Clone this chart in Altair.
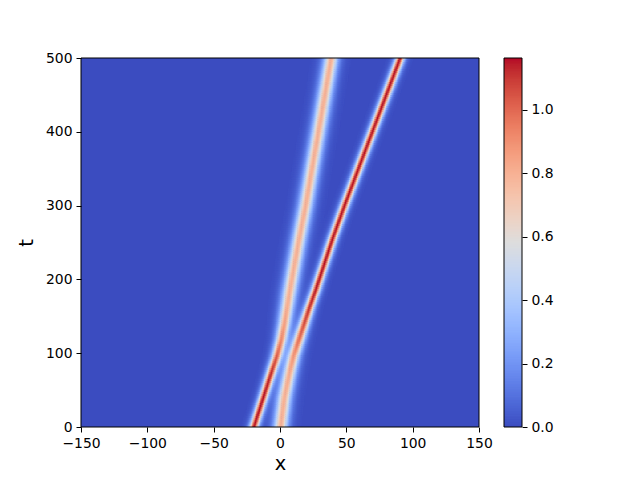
import numpy as np
import pandas as pd
import altair as alt

# ---- values ----
t_knots = [0, 40, 73, 96, 118, 141, 163, 184, 209, 254, 300, 350, 400, 450, 500]
left_center = [-19.7, -12.6, -6.7, -2.4, 0.9, 3.4, 5.4, 7.3, 9.8, 14.3, 19.3, 24.1, 29.0, 33.8, 38.6]
right_center = [0.4, 3.3, 7.1, 10.2, 14.2, 18.4, 22.4, 26.6, 31.2, 39.4, 48.6, 59.1, 69.6, 80.1, 90.6]
left_peak = [1.16, 1.16, 1.12, 1.02, 0.92, 0.85, 0.81, 0.80, 0.80, 0.80, 0.80, 0.80, 0.80, 0.80, 0.80]
right_peak = [0.80, 0.80, 0.82, 0.88, 0.98, 1.06, 1.12, 1.15, 1.16, 1.16, 1.16, 1.16, 1.16, 1.16, 1.16]
left_width = [3.0, 3.0, 3.2, 3.5, 3.9, 4.3, 4.6, 4.8, 4.8, 4.8, 4.8, 4.8, 4.8, 4.8, 4.8]
right_width = [4.8, 4.8, 4.6, 4.3, 3.9, 3.5, 3.2, 3.1, 3.0, 3.0, 3.0, 3.0, 3.0, 3.0, 3.0]

x_domain = [-150, 150]
t_domain = [0, 500]
x_ticks = [-150, -100, -50, 0, 50, 100, 150]
t_ticks = [0, 100, 200, 300, 400, 500]
cbar_ticks = [0.0, 0.2, 0.4, 0.6, 0.8, 1.0]
vmin, vmax = 0.0, 1.164

coolwarm = ["#3b4cc0", "#4d68d7", "#6282ea", "#779af7", "#8db0fe", "#a3c2ff",
            "#b8d0f9", "#cbd8ee", "#dddddd", "#ecd3c5", "#f5c4ad", "#f7b194",
            "#f49a7b", "#ec7f63", "#de604d", "#cb3e38", "#b40426"]

# ---- build the field table from the read values ----
dx, dt = 1.0, 2.5
rows = []
for t0 in np.arange(t_domain[0], t_domain[1], dt):
    tm = t0 + dt / 2
    c1 = np.interp(tm, t_knots, left_center)
    c2 = np.interp(tm, t_knots, right_center)
    a1 = np.interp(tm, t_knots, left_peak)
    a2 = np.interp(tm, t_knots, right_peak)
    w1 = np.interp(tm, t_knots, left_width)
    w2 = np.interp(tm, t_knots, right_width)
    xs = np.arange(x_domain[0], x_domain[1], dx)
    xm = xs + dx / 2
    v = a1 / np.cosh((xm - c1) / w1) ** 2 + a2 / np.cosh((xm - c2) / w2) ** 2
    keep = v > 0.006
    for x0, val in zip(xs[keep], v[keep]):
        rows.append((x0, x0 + dx * 1.35, t0, t0 + dt * 1.35, val))
cells = pd.DataFrame(rows, columns=["x0", "x1", "t0", "t1", "v"])
bg = pd.DataFrame({"x0": [x_domain[0]], "x1": [x_domain[1]],
                   "t0": [t_domain[0]], "t1": [t_domain[1]], "v": [0.0]})

stops = list(np.linspace(vmin, vmax, len(coolwarm)))
cscale = alt.Scale(domain=stops, range=coolwarm, clamp=True)

xs_ = alt.Scale(domain=x_domain, nice=False, zero=False)
ts_ = alt.Scale(domain=t_domain, nice=False, zero=False)
xaxis = alt.Axis(values=x_ticks, title="x", titlePadding=5, zindex=1, labelFlush=False)
taxis = alt.Axis(values=t_ticks, title="t", titlePadding=9, zindex=1, labelFlush=False)

def enc(ch):
    return ch.encode(
        x=alt.X("x0:Q", scale=xs_, axis=xaxis),
        x2="x1:Q",
        y=alt.Y("t0:Q", scale=ts_, axis=taxis),
        y2="t1:Q",
    )

base_bg = enc(alt.Chart(bg).mark_rect()).encode(color=alt.Color("v:Q", scale=cscale, legend=None))
base_cells = enc(alt.Chart(cells).mark_rect(clip=True)).encode(
    color=alt.Color("v:Q", scale=cscale, legend=None))
frame = enc(alt.Chart(bg).mark_rect(fillOpacity=0, stroke="black", strokeWidth=1))

heat = alt.layer(base_bg, base_cells, frame).properties(width=398, height=369)

# ---- colour bar ----
lo = np.arange(vmin, vmax, 0.005)
cb = pd.DataFrame({"lo": lo, "hi": np.minimum(lo + 0.0075, vmax), "v": lo + 0.0025})
cb_frame = pd.DataFrame({"lo": [vmin], "hi": [vmax]})
cyscale = alt.Scale(domain=[vmin, vmax], nice=False, zero=False)
caxis = alt.Axis(orient="right", values=cbar_ticks, format=".1f", title=None, zindex=1,
                 labelFlush=False)

cbar_fill = alt.Chart(cb).mark_rect().encode(
    x=alt.value(0), x2=alt.value(18),
    y=alt.Y("lo:Q", scale=cyscale, axis=caxis), y2="hi:Q",
    color=alt.Color("v:Q", scale=cscale, legend=None),
)
cbar_box = alt.Chart(cb_frame).mark_rect(fillOpacity=0, stroke="black", strokeWidth=1).encode(
    x=alt.value(0), x2=alt.value(18),
    y=alt.Y("lo:Q", scale=cyscale, axis=caxis), y2="hi:Q",
)
cbar = alt.layer(cbar_fill, cbar_box).properties(width=18, height=369)

chart = alt.hconcat(heat, cbar, spacing=25, bounds="flush").resolve_scale(
    color="shared"
).properties(
    padding={"left": 8, "top": 43, "right": 5, "bottom": 5}
).configure_axis(
    labelFont="DejaVu Sans", labelFontSize=13.9, labelColor="black",
    titleFont="DejaVu Sans", titleFontSize=19.4, titleColor="black", titleFontWeight="normal",
    tickColor="black", tickSize=5, tickWidth=1, labelPadding=4,
    domain=False, grid=False,
).configure_view(strokeWidth=0)

chart.save("out.html", embed_options={"renderer": "svg", "actions": False})
